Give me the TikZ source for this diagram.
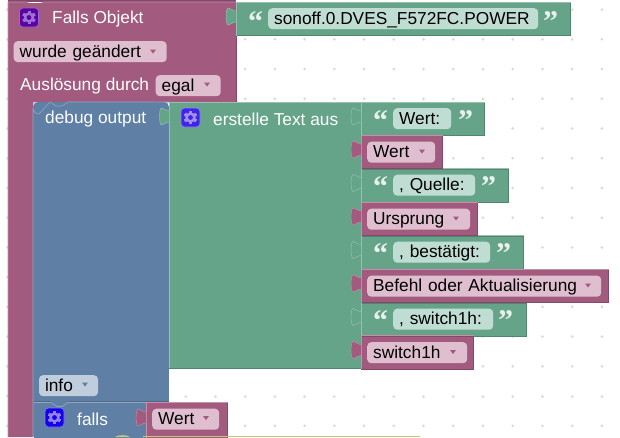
\documentclass[tikz,border=0pt]{standalone}
\usepackage{fontspec}
\setmainfont{Liberation Sans}
\newfontfamily\quotefont{Liberation Serif}
\definecolor{pur}{HTML}{A25A7E}
\definecolor{purlt}{HTML}{C490AA}
\definecolor{purdk}{HTML}{84496A}
\definecolor{purfd}{HTML}{DFBFCF}
\definecolor{blu}{HTML}{5F7FA5}
\definecolor{blult}{HTML}{8FA8C4}
\definecolor{bludk}{HTML}{4E6886}
\definecolor{blufd}{HTML}{BFCDDD}
\definecolor{grn}{HTML}{66A48A}
\definecolor{grnlt}{HTML}{97C2B0}
\definecolor{grndk}{HTML}{528570}
\definecolor{grnfd}{HTML}{BFDDD2}
\definecolor{griddot}{HTML}{DADADA}
\definecolor{lime}{HTML}{C3C77A}
\tikzset{
  blocktext/.style={font=\fontsize{17.3}{19}\selectfont, text=white, inner sep=0pt, anchor=west},
  field/.style={font=\fontsize{17.3}{19}\selectfont, text=black, anchor=north west, rounded corners=4pt,
    inner xsep=6pt, inner ysep=0pt, minimum height=21pt, text height=13.5pt, text depth=2.5pt,
    align=left, text width=#1},
  purfield/.style={field=#1, fill=purfd},
  grnfield/.style={field=#1, fill=grnfd},
  blufield/.style={field=#1, fill=blufd},
  valblock/.style={anchor=north west, inner sep=0pt, minimum height=33pt, line width=.6pt},
  lit/.style={append after command={
    (\tikzlastnode.south west) edge[draw=#1, line width=.6pt] (\tikzlastnode.north west)
    (\tikzlastnode.north west) edge[draw=#1, line width=.6pt] (\tikzlastnode.north east)}},
  purblock/.style={valblock, fill=pur, draw=purdk, lit=purlt},
  grnblock/.style={valblock, fill=grn, draw=grndk, lit=grnlt},
  quotemark/.style={font=\quotefont\bfseries\fontsize{30}{30}\selectfont, text=white!85!grn, inner sep=0pt, anchor=base west},
  pics/gearicon/.style={code={
    \fill[#1, draw=white!55!#1, line width=.6pt, rounded corners=3.5pt] (0,0) rectangle (19,19);
    \foreach \a in {0,60,...,300}
      \fill[white!60!#1, rotate around={\a:(9.5,9.5)}] (8,2.8) rectangle (11,16.2);
    \fill[white!60!#1] (9.5,9.5) circle (5.2pt);
    \fill[#1] (9.5,9.5) circle (2.4pt);
  }}
}
\newcommand{\inputtab}[3]{
  \filldraw[fill=#3, draw=white!30!#3, line width=.5pt] (#1,#2+9) .. controls (#1-4,#2+9) and (#1-5,#2+6) .. (#1-8,#2+6)
    .. controls (#1-10.5,#2+6) and (#1-10.5,#2+23) .. (#1-8,#2+23)
    .. controls (#1-5,#2+23) and (#1-4,#2+20) .. (#1,#2+20);
}
\newcommand{\dropmark}[3]{
  \fill[#3] (#1,#2) -- (#1+6,#2) -- (#1+3,#2+4) -- cycle;
}
\begin{document}
\begin{tikzpicture}[x=1pt,y=-1pt]
  \useasboundingbox (0,0) rectangle (620,437);
  \clip (0,0) rectangle (620,437);
  % workspace dots
  \foreach \i in {0,...,20}
    \foreach \j in {0,...,14}
      \fill[griddot] (7.3+29.73*\i,9.6+29.73*\j) circle (1.5pt);

  % outer block
  \fill[purdk] (8,0) rectangle (236,2);
  \filldraw[fill=pur, draw=purlt, line width=.6pt] (33,437) -- (33,102) -- (236,102) -- (236,2) -- (43,2) -- (37,6) -- (33,6) -- (27,2) -- (8,2) -- (8,437);
  \fill[pur] (9,3) rectangle (235.6,101.6);
  \fill[pur] (9,100) rectangle (32.6,437);
  \draw[purdk, line width=.6pt] (236,2) -- (236,102);

  % blue statement
  \fill[blu, rounded corners=5pt] (33,440) -- (33,102) -- (169,102) -- (169,440) -- cycle;
  \draw[blult, line width=.6pt] (33,437) -- (33,108) arc[start angle=180, end angle=270, radius=6pt] -- (50,102) -- (56,106) -- (62,106) -- (68,102) -- (169,102);
  \draw[bludk, line width=.6pt] (169,102) -- (169,402);
  \draw[bludk, line width=.6pt] (34,401.5) -- (51,401.5);
  \draw[bludk, line width=.6pt] (68,401.5) -- (169,401.5);
  \fill[white] (169.4,369) rectangle (620,402);
  \foreach \i in {6,...,20} \fill[griddot] (7.3+29.73*\i,396.6) circle (1.5pt);
  \fill[white] (146,402) rectangle (169.6,437);
  \fill[blu] (34,402) rectangle (146,437);
  \draw[blult, line width=.6pt] (34,402.5) -- (51,402.5) -- (57,406.5) -- (62,406.5) -- (68,402.5) -- (146,402.5);
  \draw[bludk, line width=.6pt] (146,403) -- (146,437);

  % green text block
  \filldraw[fill=grn, draw=grnlt, line width=.6pt] (169.4,368) -- (169.4,102) -- (361,102) -- (361,368);
  \draw[grndk, line width=.6pt] (169.4,368) -- (361,368);
  \inputtab{169.4}{102}{grn}

  % labels of the big blocks
  \pic (gearfalls) at (19.5,8) {gearicon=violet!75!blue};
  \node[blocktext] (fallslabel) at (52,19) {Falls Objekt};
  \node[purfield=141pt] (changed) at (13.5,41) {wurde geändert};
  \dropmark{150}{49.5}{pur}
  \node[blocktext] (triggerlabel) at (20,86) {Auslösung durch};
  \node[purfield=53pt] (egal) at (155.5,75) {egal};
  \dropmark{204}{82.5}{pur}
  \node[blocktext] (debuglabel) at (45,119) {debug output};
  \pic (geartext) at (181,108) {gearicon=blue!80!violet!85!white};
  \node[blocktext] (textlabel) at (213,119) {erstelle Text aus};
  \node[blufield=47pt] (info) at (38.8,375) {info};
  \dropmark{82}{382.5}{blu}
  \pic (gearif) at (45,408) {gearicon=blue!85!violet};
  \node[blocktext] (iflabel) at (77,419) {falls};

  % object id
  \node[grnblock, minimum width=334pt] (objid) at (236,2) {};
  \inputtab{236}{2}{grn}
  \node[quotemark] (objopen) at (248,31) {“};
  \node[grnfield=258pt] (objfield) at (268,8) {sonoff.0.DVES\_F572FC.POWER};
  \node[quotemark] (objclose) at (543,31) {”};

  % text values
  \foreach \n/\rowy/\w/\fw/\cx/\txt in {
    wertq/102/123/46/458/{Wert:},
    quelle/168.5/147/70/481/{, Quelle:},
    best/235.5/162/85/496/{, bestätigt:},
    swq/302.5/165/88/498/{, switch1h:}}{
    \node[grnblock, minimum width=\w pt] (\n) at (361,\rowy) {};
    \inputtab{361}{\rowy}{grn}
    \node[quotemark] (\n open) at (373,\rowy+28) {“};
    \node[grnfield=\fw pt] (\n field) at (393,\rowy+6) {\txt};
    \node[quotemark] (\n close) at (\cx,\rowy+28) {”};
  }

  % variables
  \foreach \n/\rowy/\w/\fw/\mx/\txt in {
    wertv/135/81/56/419/{Wert},
    ursprung/202/116/91/453/{Ursprung},
    befehl/269/247/222/585/{Befehl oder Aktualisierung},
    swv/335.5/112/88/450/{switch1h}}{
    \node[purblock, minimum width=\w pt] (\n) at (361,\rowy) {};
    \inputtab{361}{\rowy}{pur}
    \node[purfield=\fw pt] (\n field) at (367,\rowy+6.5) {\txt};
    \dropmark{\mx}{\rowy+14.5}{pur}
  }

  % condition
  \node[purblock, minimum width=81pt, minimum height=36pt] (cond) at (146,402) {};
  \inputtab{146}{403}{pur}
  \node[purfield=55pt] (condfield) at (152,408.5) {Wert};
  \dropmark{203}{416}{pur}

  % next block, cut off by the border
  \fill[lime] (143,435.8) rectangle (420,437);
  \fill[lime] (115,437) .. controls (117,434.5) and (128,434.5) .. (130,437) -- cycle;
\end{tikzpicture}
\end{document}
